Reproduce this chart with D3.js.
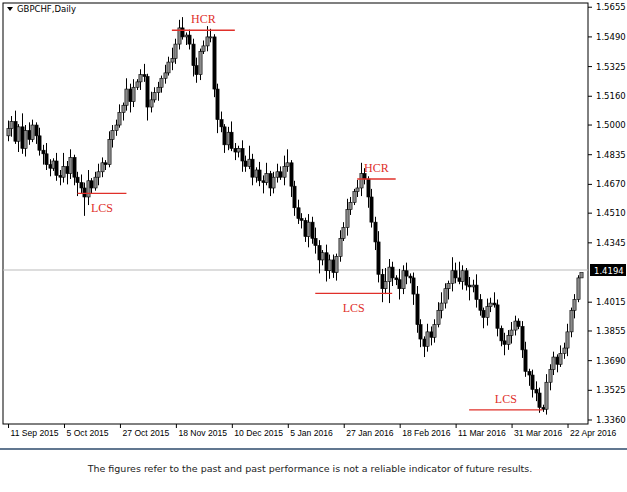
<!DOCTYPE html>
<html><head><meta charset="utf-8">
<script src="https://cdn.jsdelivr.net/npm/d3@7"></script>
<style>body{margin:0;background:#fff}svg{display:block}</style>
</head><body>
<svg id="c" width="627" height="492"></svg>
<script>
const closes=[1.498,1.502,1.491,1.499,1.487,1.497,1.492,1.500,
1.494,1.486,1.484,1.478,1.476,1.480,1.472,1.471,1.477,
1.473,1.482,1.471,1.468,1.465,1.460,
1.469,1.465,1.471,1.474,1.479,1.478,1.492,1.497,
1.500,1.507,1.511,1.520,1.513,1.521,1.524,
1.528,1.527,1.510,1.514,1.518,1.521,
1.526,1.529,1.535,1.537,1.545,
1.554,1.549,1.550,1.545,
1.533,1.528,1.541,1.544,1.549,1.549,
1.520,1.503,1.499,1.489,1.496,1.487,
1.485,1.487,1.480,1.477,1.481,1.471,1.475,1.469,1.468,1.473,
1.465,1.471,1.474,1.471,1.477,1.479,1.466,1.454,1.448,
1.447,1.438,1.446,1.437,1.433,1.425,1.429,1.419,1.425,1.418,
1.427,1.437,1.443,1.453,1.457,1.463,1.465,1.473,1.470,
1.460,1.446,1.435,1.417,1.409,1.413,1.421,1.415,
1.414,1.409,1.419,1.416,1.415,1.406,1.389,
1.381,1.377,1.385,1.382,
1.389,1.397,1.401,1.409,1.412,1.419,1.415,
1.413,1.419,1.411,1.410,1.411,1.403,1.397,
1.393,1.399,1.401,1.400,1.387,1.380,1.378,
1.383,1.386,1.391,1.388,1.375,1.363,
1.361,1.353,1.351,1.343,1.342,1.357,1.364,
1.371,1.367,1.373,1.376,1.385,
1.397,1.403,1.415,1.418];
const firstOpen=1.494;
// wick extents in units of 0.0015 above max(open,close) and below min(open,close)
const wickUp=[3,2,4,1,5,2,3,2,1,3,2,4,2,1,3,2,5,2,3,1,2,3,2,4,1,2,3,2,1,3,2,
2,3,1,4,2,3,1,2,4,1,3,2,2,1,3,2,4,2,3,4,1,2,2,3,1,2,4,3,1,
2,3,1,2,4,2,1,3,2,5,2,1,3,2,4,1,2,3,2,4,5,1,2,3,
2,1,3,2,4,2,1,3,2,2,1,3,2,4,2,1,3,4,2,
1,3,2,4,2,5,3,2,1,4,2,3,1,2,3,
2,1,3,2,2,3,4,2,1,5,3,6,2,1,3,2,4,
2,1,3,2,4,2,1,3,2,3,2,1,2,3,1,2,3,2,1,3,2,2,1,3,2,3,1,2,1];
const wickDn=[2,3,1,4,2,3,2,1,3,2,4,2,3,1,2,3,2,4,2,3,5,2,7,3,2,1,3,2,2,1,3,
2,1,3,2,4,2,1,3,2,5,2,1,3,2,2,1,3,2,2,1,3,2,4,3,2,1,2,2,3,
5,2,3,2,1,3,2,4,2,1,3,2,2,4,1,3,2,2,1,3,2,4,3,2,
3,2,4,2,3,5,2,4,3,2,3,2,1,3,2,1,2,3,2,
4,2,3,3,5,2,8,3,2,4,2,3,2,4,3,
3,4,2,3,2,1,3,2,4,3,2,1,3,2,5,2,3,
2,4,3,2,1,3,2,4,2,3,2,1,3,2,4,3,3,2,1,2,3,2,3,1,2,3,2,3,1];
const dateLabels=["11 Sep 2015","5 Oct 2015","27 Oct 2015","18 Nov 2015","10 Dec 2015","5 Jan 2016","27 Jan 2016","18 Feb 2016","11 Mar 2016","31 Mar 2016","22 Apr 2016"];
const dateLabelIdx=[0,16,32,48,64,80,96,112,128,144,160];
const priceTicks=[1.5655,1.5490,1.5325,1.5160,1.5000,1.4835,1.4670,1.4510,1.4345,1.4015,1.3855,1.3690,1.3525,1.3360];
const currentPrice=1.4194;
const levelNames=["HCR","LCS","HCR","LCS","LCS"];
const levelPrices=[1.5527,1.4620,1.4700,1.4064,1.3416];
const levelFrom=[47,20,100,88,132];
const levelTo=[65,34,111,110,153];

const candles=closes.map((c,i)=>{const o=i?closes[i-1]:firstOpen;
 return {i,o,c,h:Math.max(o,c)+wickUp[i]*0.0015,l:Math.min(o,c)-wickDn[i]*0.0015};});

const svg=d3.select("#c");
const L=3,R=588,T=3,B=424;
const x=d3.scaleLinear().domain([-1.3,166]).range([L,R]);
const y=d3.scaleLinear().domain([1.3360,1.4194]).range([420,270]);

svg.append("rect").attr("x",L).attr("y",T).attr("width",R-L).attr("height",B-T).attr("fill","#fff").attr("stroke","#000");
svg.append("line").attr("x1",L).attr("x2",R).attr("y1",y(currentPrice)).attr("y2",y(currentPrice)).attr("stroke","#bbb");

const g=svg.append("g");
const bw=2.2;
candles.forEach(d=>{
 const cx=Math.round(x(d.i))+0.5;
 g.append("line").attr("x1",cx).attr("x2",cx).attr("y1",y(d.h)).attr("y2",y(d.l)).attr("stroke","#000");
 const top=y(Math.max(d.o,d.c)),bot=y(Math.min(d.o,d.c));
 g.append("rect").attr("x",cx-bw/2-0.5).attr("y",top).attr("width",bw+1).attr("height",Math.max(1,bot-top))
  .attr("fill",d.c>=d.o?"#8a8a8a":"#000").attr("stroke","#000").attr("stroke-width",0.6);
});

levelNames.forEach((n,k)=>{
 const yy=y(levelPrices[k]);
 svg.append("line").attr("x1",x(levelFrom[k])).attr("x2",x(levelTo[k])).attr("y1",yy).attr("y2",yy).attr("stroke","#e0302a").attr("stroke-width",1.3);
 const above=n==="HCR"||k===4;
 svg.append("text").attr("x",(x(levelFrom[k])+x(levelTo[k]))/2).attr("y",above?yy-7:yy+19)
  .attr("text-anchor","middle").attr("font-family","Liberation Serif, serif").attr("font-size",12).attr("fill","#e0302a").text(n);
});

const ax=svg.append("g").attr("font-family","DejaVu Sans, sans-serif").attr("font-size",8.5);
priceTicks.forEach(p=>{
 ax.append("line").attr("x1",R).attr("x2",R+4).attr("y1",y(p)).attr("y2",y(p)).attr("stroke","#000");
 ax.append("text").attr("x",R+8).attr("y",y(p)+3).text(p.toFixed(4));
});
ax.append("rect").attr("x",R+2).attr("y",y(currentPrice)-6).attr("width",36).attr("height",12).attr("fill","#000");
ax.append("text").attr("x",R+6).attr("y",y(currentPrice)+3.5).attr("fill","#fff").text(currentPrice.toFixed(4));

const bx=svg.append("g").attr("font-family","Liberation Sans, sans-serif").attr("font-size",8.6);
dateLabels.forEach((t,k)=>{
 const xx=x(dateLabelIdx[k])+1;
 bx.append("line").attr("x1",xx).attr("x2",xx).attr("y1",B).attr("y2",B+4).attr("stroke","#000");
 bx.append("text").attr("x",xx+2).attr("y",B+12).text(t);
});

svg.append("path").attr("d","M7,7 L13,7 L10,11 Z").attr("fill","#000");
svg.append("text").attr("x",17).attr("y",12).attr("font-family","DejaVu Sans, sans-serif").attr("font-size",8.5).text("GBPCHF,Daily");

svg.append("line").attr("x1",0).attr("x2",627).attr("y1",449).attr("y2",449).attr("stroke","#2c4a6b").attr("stroke-width",1.5);
svg.append("text").attr("x",310).attr("y",472).attr("text-anchor","middle").attr("font-family","DejaVu Sans, sans-serif").attr("font-size",9.5).attr("fill","#222")
 .text("The figures refer to the past and past performance is not a reliable indicator of future results.");
</script>
</body></html>
